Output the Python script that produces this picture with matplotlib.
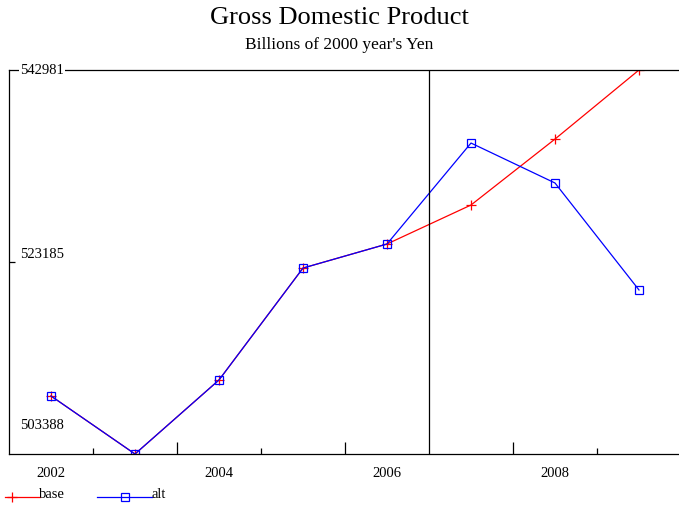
import matplotlib.pyplot as plt
from matplotlib.lines import Line2D
import matplotlib.transforms as mtransforms

# --- data ---
years = [2002, 2003, 2004, 2005, 2006, 2007, 2008, 2009]
base = [509370, 503388, 511020, 522560, 525040, 529060, 535860, 542981]
alt = [509370, 503388, 511020, 522560, 525040, 535450, 531330, 520300]
ytick_vals = [542981, 523185, 503388]
xtick_years = [2002, 2004, 2006, 2008]

plt.rcParams['font.family'] = ['Liberation Serif', 'DejaVu Serif']

W, H = 679, 506
fig = plt.figure(figsize=(W / 100, H / 100), dpi=100)
ax = fig.add_axes([9 / W, (H - 455) / H, 672 / W, 384 / H])

ax.plot(years, base, color='red', lw=0.9, marker='+', ms=7, mew=0.9)
ax.plot(years, alt, color='blue', lw=0.9, marker='s', ms=6, mfc='none', mew=0.9)

ax.set_xlim(2001.5, 2009.5)
ax.set_ylim(ytick_vals[2], ytick_vals[0])

# divider between history and forecast
ax.axvline(2006.5, color='black', lw=0.9)

ax.spines['right'].set_visible(False)
for s in ['left', 'top', 'bottom']:
    ax.spines[s].set_linewidth(0.9)

# x axis: labels without marks, then tall / short marks between years
ax.set_xticks(xtick_years)
ax.set_xticklabels([str(y) for y in xtick_years], fontsize=10.5)
ax.tick_params(axis='x', length=0, pad=9)
trans = mtransforms.blended_transform_factory(ax.transData, ax.transAxes)
ax.vlines([2003.5, 2005.5, 2007.5], 0, 12 / 384, transform=trans, color='black', lw=0.9)
ax.vlines([2002.5, 2004.5, 2008.5], 0, 6 / 384, transform=trans, color='black', lw=0.9)

# y axis: inward ticks, labels inside the plot
ax.set_yticks([ytick_vals[1]])
ax.set_yticklabels([])
ax.tick_params(axis='y', direction='in', length=4.5, width=0.9)
offsets = [0, 8, 29]
for v, dy in zip(ytick_vals, offsets):
    ax.annotate(str(v), xy=(0, v), xycoords=('axes fraction', 'data'),
                xytext=(11, dy), textcoords='offset pixels',
                ha='left', va='center', fontsize=10.5,
                bbox=dict(facecolor='white', edgecolor='none', pad=0.5))

fig.text(0.5, 1 - 18 / H, 'Gross Domestic Product', ha='center', va='center', fontsize=19)
fig.text(0.5, 1 - 45 / H, "Billions of 2000 year's Yen", ha='center', va='center', fontsize=12.5)

# legend drawn by hand at the bottom
ly = 1 - 498 / H
ty = 1 - 495 / H
fig.add_artist(Line2D([5 / W, 40 / W], [ly, ly], color='red', lw=0.9))
fig.add_artist(Line2D([12 / W], [ly], color='red', marker='+', ms=7, mew=0.9))
fig.text(39 / W, ty, 'base', fontsize=10.5, va='center')
fig.add_artist(Line2D([97 / W, 152 / W], [ly, ly], color='blue', lw=0.9))
fig.add_artist(Line2D([125 / W], [ly], color='blue', marker='s', ms=6, mfc='none', mew=0.9))
fig.text(151 / W, ty, 'alt', fontsize=10.5, va='center')

fig.savefig('out.png', dpi=100)
